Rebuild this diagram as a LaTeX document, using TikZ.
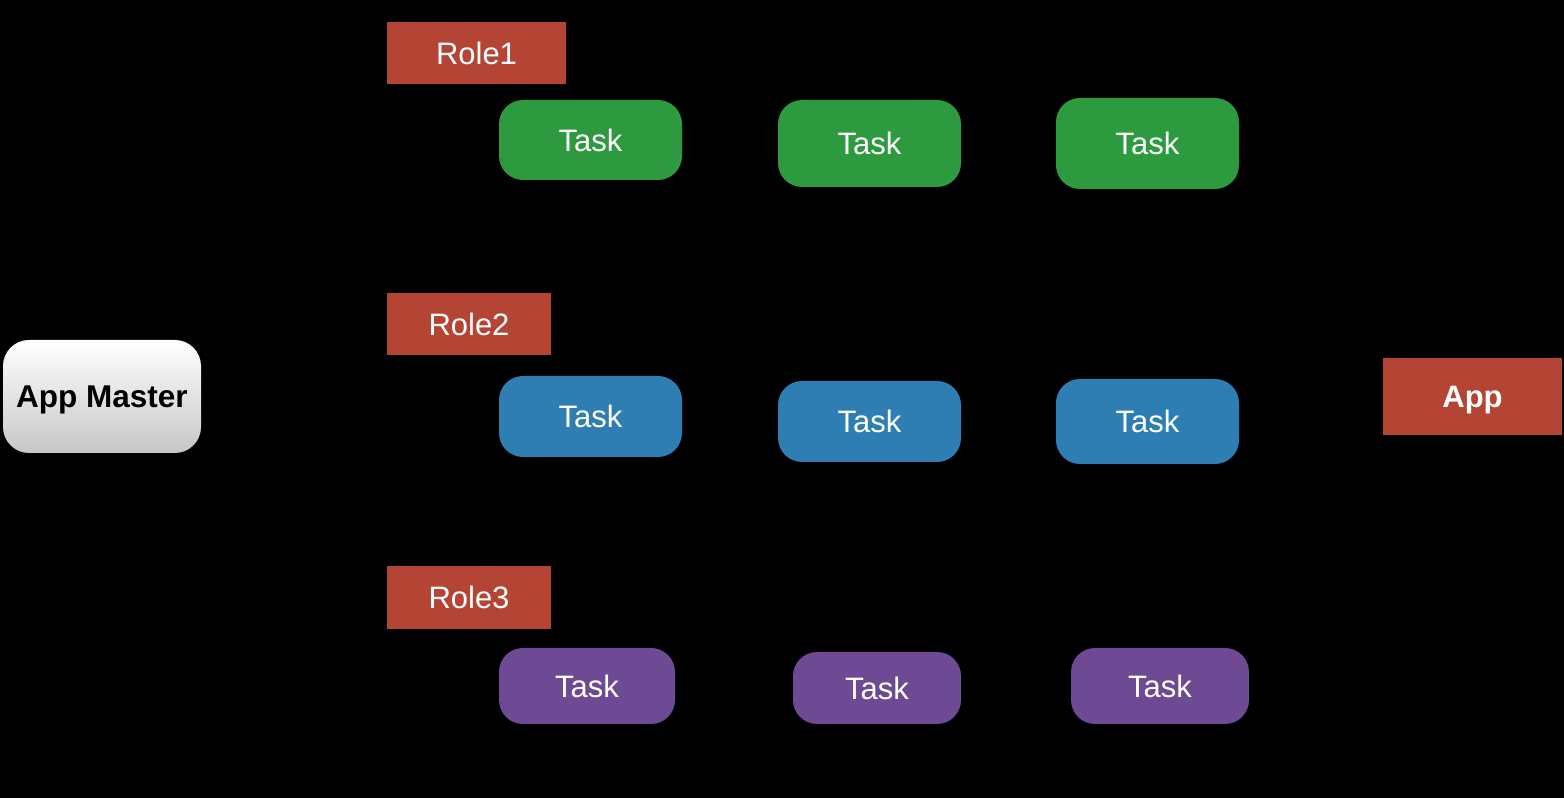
\documentclass[tikz,border=0pt]{standalone}
\usepackage{fontspec}
\setmainfont{Liberation Sans}
\usetikzlibrary{shapes.misc}
\definecolor{rolered}{HTML}{B44535}
\definecolor{taskgreen}{HTML}{2E9A40}
\definecolor{taskblue}{HTML}{2E7EB4}
\definecolor{taskpurple}{HTML}{6E4A94}
\tikzset{
  rolebox/.style={fill=rolered, text=white, inner sep=0pt, text depth=0pt, font=\fontsize{31}{31}\selectfont},
  taskbox/.style={rounded corners=24pt, text=white, inner sep=0pt, text depth=0pt, font=\fontsize{31}{31}\selectfont},
  masterbox/.style={rounded corners=26pt, top color=white, bottom color=black!22, text=black, inner sep=0pt, text depth=0pt, font=\bfseries\fontsize{31.5}{31.5}\selectfont},
  appbox/.style={fill=rolered, text=white, inner sep=0pt, text depth=0pt, font=\bfseries\fontsize{31}{31}\selectfont}
}
\begin{document}
\begin{tikzpicture}[x=1pt,y=1pt]
\fill[black] (0,0) rectangle (1564,798);
\useasboundingbox (0,0) rectangle (1564,798);
% Roles
\node[rolebox, minimum width=179pt, minimum height=62pt] (r1) at (476.5,745) {Role1};
\node[rolebox, minimum width=164pt, minimum height=62pt] (r2) at (469,474) {Role2};
\node[rolebox, minimum width=164pt, minimum height=63pt] (r3) at (469,200.5) {Role3};
% App master
\node[masterbox, minimum width=198pt, minimum height=113pt] (am) at (102,401.5) {App Master};
% App
\node[appbox, minimum width=179pt, minimum height=77pt] (app) at (1472.5,401.5) {App};
% green tasks
\node[taskbox, fill=taskgreen, minimum width=183pt, minimum height=80pt] (g1) at (590.5,658) {Task};
\node[taskbox, fill=taskgreen, minimum width=183pt, minimum height=87pt] (g2) at (869.5,654.5) {Task};
\node[taskbox, fill=taskgreen, minimum width=183pt, minimum height=91pt] (g3) at (1147.5,654.5) {Task};
% blue tasks
\node[taskbox, fill=taskblue, minimum width=183pt, minimum height=81pt] (b1) at (590.5,381.5) {Task};
\node[taskbox, fill=taskblue, minimum width=183pt, minimum height=81pt] (b2) at (869.5,376.5) {Task};
\node[taskbox, fill=taskblue, minimum width=183pt, minimum height=85pt] (b3) at (1147.5,376.5) {Task};
% purple tasks
\node[taskbox, fill=taskpurple, minimum width=176pt, minimum height=76pt] (p1) at (587,112) {Task};
\node[taskbox, fill=taskpurple, minimum width=168pt, minimum height=72pt] (p2) at (877,110) {Task};
\node[taskbox, fill=taskpurple, minimum width=178pt, minimum height=76pt] (p3) at (1160,112) {Task};
\end{tikzpicture}
\end{document}
